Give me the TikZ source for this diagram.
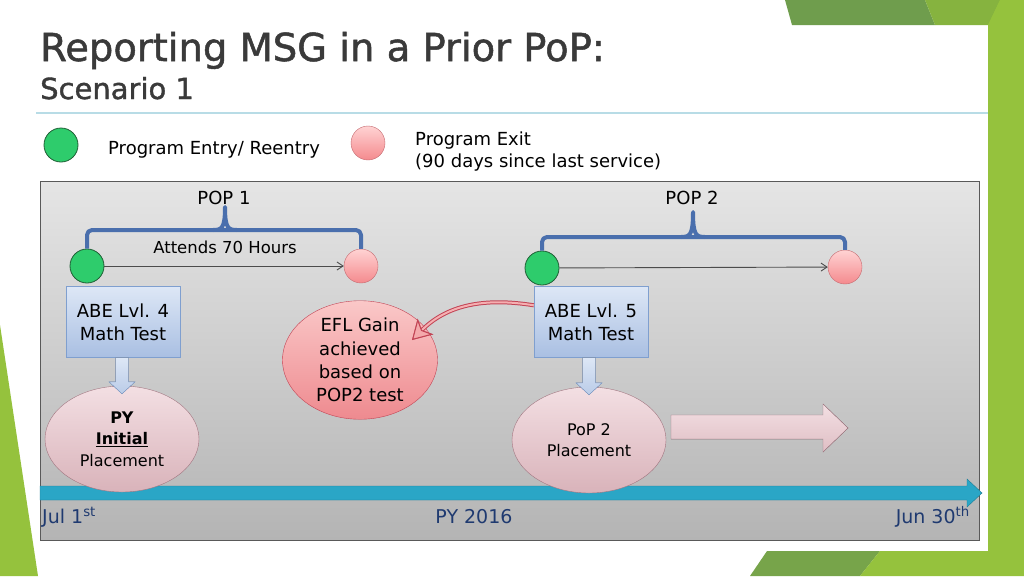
\documentclass[tikz,border=0pt]{standalone}
\usepackage{fontspec}
\setmainfont{DejaVu Sans}
\newfontfamily\headfont[FakeBold=1.3]{DejaVu Sans}
\usepackage{xcolor}
\usetikzlibrary{arrows.meta,positioning,calc,shapes.geometric}
\definecolor{titlegray}{HTML}{3A3A3A}
\definecolor{rulecol}{HTML}{B8DCE6}
\definecolor{leafdark}{HTML}{6F9D4D}
\definecolor{leafmid}{HTML}{86B33F}
\definecolor{leaf}{HTML}{95C23D}
\definecolor{entryfill}{HTML}{2ECC6C}
\definecolor{entryline}{HTML}{1F5F35}
\definecolor{exittop}{HTML}{FFD3D3}
\definecolor{exitbot}{HTML}{F48A8E}
\definecolor{exitline}{HTML}{C46A70}
\definecolor{boxtop}{HTML}{DDE7F6}
\definecolor{boxbot}{HTML}{A9BFE2}
\definecolor{boxline}{HTML}{7F9FCF}
\definecolor{pltop}{HTML}{F3DFE3}
\definecolor{plbot}{HTML}{D9B3BA}
\definecolor{plline}{HTML}{A07580}
\definecolor{gaintop}{HTML}{FAC8C8}
\definecolor{gainbot}{HTML}{EE8A8F}
\definecolor{gainline}{HTML}{C24455}
\definecolor{bracecol}{HTML}{4A6FAD}
\definecolor{teal}{HTML}{2AA6C6}
\definecolor{tealline}{HTML}{1B7C96}
\definecolor{navy}{HTML}{1F3A70}
\definecolor{paneltop}{HTML}{E5E5E5}
\definecolor{panelbot}{HTML}{B4B4B4}

\begin{document}
\begin{tikzpicture}[
  x=1pt,y=-1pt,
  entry/.style={circle,draw=entryline,fill=entryfill,minimum size=34pt,inner sep=0pt,thick},
  exitdot/.style={circle,draw=exitline,top color=exittop,bottom color=exitbot,minimum size=34pt,inner sep=0pt},
  testbox/.style={draw=boxline,top color=boxtop,bottom color=boxbot,minimum width=114pt,minimum height=71pt,align=center,font=\fontsize{18}{23}\selectfont},
  placement/.style={ellipse,draw=plline,top color=pltop,bottom color=plbot,minimum width=154pt,minimum height=106pt,inner sep=0pt,align=center,font=\fontsize{16}{21.5}\selectfont},
  gain/.style={ellipse,draw=gainline,top color=gaintop,bottom color=gainbot,minimum width=155pt,minimum height=116pt,inner sep=0pt,align=center,font=\fontsize{18}{23.3}\selectfont},
  conn/.style={-{Straight Barb[length=6pt,width=8pt]},draw=black!70,line width=0.9pt},
  brace/.style={draw=bracecol,line width=4pt,rounded corners=5pt,line join=round},
  downarr/.style={draw=boxline,top color=boxtop,bottom color=boxbot!80},
  legend/.style={font=\fontsize{18}{22}\selectfont,inner sep=0pt,align=left},
  date/.style={font=\fontsize{19}{23}\selectfont,text=navy,inner sep=0pt}
]
\useasboundingbox (0,0) rectangle (1024,576);
\fill[white] (0,0) rectangle (1024,576);
% slide decoration
\fill[leaf] (988,0) rectangle (1024,576);
\fill[leafdark] (785,0) -- (925,0) -- (935,25) -- (792,25) -- cycle;
\fill[leafmid] (925,0) -- (1000,0) -- (988,25) -- (935,25) -- cycle;
\fill[leaf] (1000,0) -- (1024,0) -- (1024,190) -- (988,190) -- (988,25) -- cycle;
\fill[leafdark!80!leaf] (767,551) -- (880,551) -- (860,576) -- (750,576) -- cycle;
\fill[leaf] (880,551) -- (1024,551) -- (1024,576) -- (860,576) -- cycle;
\fill[leaf] (0,325) -- (38,576) -- (0,576) -- cycle;

% heading
\node[anchor=base west,inner sep=0pt,text=titlegray,font=\headfont\fontsize{38.5}{44}\selectfont] (title) at (40,61) {Reporting MSG in a Prior PoP:};
\node[anchor=base west,inner sep=0pt,text=titlegray,font=\headfont\fontsize{29}{34}\selectfont] (sub) at (40,99) {Scenario 1};
\draw[rulecol,line width=2pt] (36,113) -- (988,113);

% legend
\node[entry] (lg) at (61,145) {};
\node[legend,anchor=base west] (lgt) at (108,154) {Program Entry/ Reentry};
\node[exitdot] (lp) at (368,143) {};
\node[legend,anchor=west] (lpt) at (415,152) {Program Exit\\(90 days since last service)};

% panel
\draw[draw=black!65,top color=paneltop,bottom color=panelbot] (40,181) rectangle (979,540);

% periods
\node[font=\fontsize{18}{22}\selectfont] (pop1) at (224,198) {POP 1};
\node[font=\fontsize{18}{22}\selectfont] (pop2) at (692,198) {POP 2};
\node[entry] (g1) at (87,266) {};
\node[exitdot] (p1) at (361,266) {};
\node[entry] (g2) at (542,268) {};
\node[exitdot] (p2) at (845,267) {};
\node[font=\fontsize{16.5}{20}\selectfont] (hrs) at (225,247) {Attends 70 Hours};
\draw[brace] (g1.north) -- (87,230) -- (361,230) -- (p1.north);
\draw[brace,rounded corners=0pt] (213,230) .. controls (222,230) and (225,228) .. (225,207) .. controls (225,228) and (228,230) .. (237,230);
\draw[brace] (g2.north) -- (542,237) -- (845,237) -- (p2.north);
\draw[brace,rounded corners=0pt] (681,237) .. controls (690,237) and (693,235) .. (693,212) .. controls (693,235) and (696,237) .. (705,237);
\foreach \u/\v in {g1/p1,g2/p2} {\draw[conn] (\u)--(\v);}

% time line
\filldraw[fill=teal,draw=tealline] (40,486) -- (967,486) -- (967,479) -- (982,493) -- (967,507) -- (967,500) -- (40,500) -- cycle;
\node[date,anchor=base west] (jul) at (42,523) {Jul 1\textsuperscript{st}};
\node[date,anchor=base] (py) at (474,523) {PY 2016};
\node[date,anchor=base east] (jun) at (970,523) {Jun 30\textsuperscript{th}};

% tests and placements
\node[testbox] (abe4) at (123,322) {ABE Lvl. 4\\Math Test};
\node[testbox] (abe5) at (591,322) {ABE Lvl. 5\\Math Test};
\node[placement] (pl1) at (122,439) {\textbf{PY}\\\textbf{\underline{Initial}}\\Placement};
\node[placement] (pl2) at (589,440) {PoP 2\\Placement};
\foreach \u/\v in {abe4/pl1,abe5/pl2} {
  \filldraw[downarr] ($(\v.north |- \u.south)+(-6.5,0)$) -- ($(\v.north |- \u.south)+(6.5,0)$) -- ($(\v.north)+(6.5,-4)$) -- ($(\v.north)+(13,-4)$) -- ($(\v.north)+(0,8)$) -- ($(\v.north)+(-13,-4)$) -- ($(\v.north)+(-6.5,-4)$) -- cycle;
}
\filldraw[draw=plline,top color=pltop,bottom color=plbot!85] (671,415) -- (823,415) -- (823,404) -- (848,428) -- (823,452) -- (823,439) -- (671,439) -- cycle;

% gain
\node[gain] (efl) at (360,360) {EFL Gain\\achieved\\based on\\POP2 test};
\draw[line width=2pt,draw=gaintop!60!gainbot,preaction={draw=gainline,line width=4pt},
  -{Stealth[length=19pt,width=22pt,inset=5pt,fill=gaintop!50!gainbot,color=gainline,line width=1pt]}]
  ($(abe5.north west)+(0,19)$) .. controls +(-50,-8) and +(35,-35) .. ($(efl.center)+(52,-20)$);
\end{tikzpicture}
\end{document}
